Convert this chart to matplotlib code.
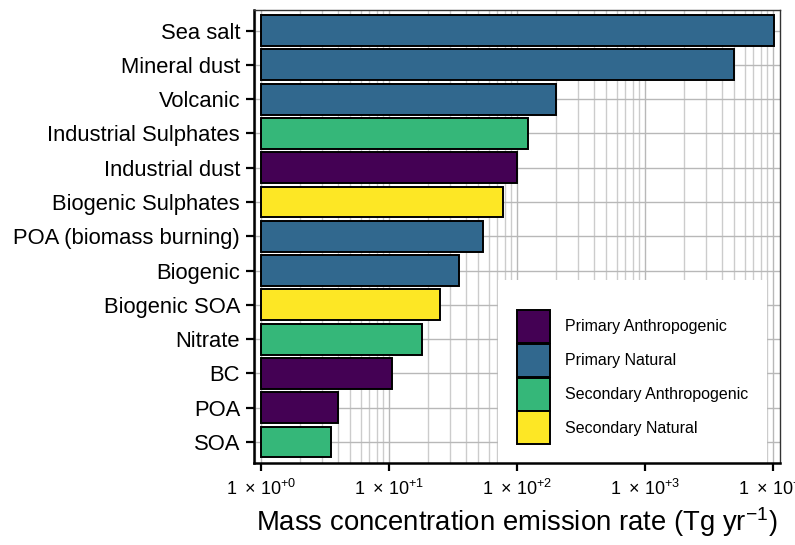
import matplotlib
matplotlib.use("Agg")
import matplotlib.pyplot as plt
from matplotlib.patches import Patch, Rectangle
from matplotlib.ticker import LogLocator, FixedLocator, NullFormatter

plt.rcParams["font.family"] = ["Liberation Sans", "DejaVu Sans"]
plt.rcParams["mathtext.fontset"] = "custom"
plt.rcParams["mathtext.rm"] = "Liberation Sans"
plt.rcParams["mathtext.it"] = "Liberation Sans:italic"
plt.rcParams["mathtext.bf"] = "Liberation Sans:bold"

# Aerosol sources, listed from largest to smallest emission
sources = ["Sea salt", "Mineral dust", "Volcanic", "Industrial Sulphates",
           "Industrial dust", "Biogenic Sulphates", "POA (biomass burning)",
           "Biogenic", "Biogenic SOA", "Nitrate", "BC", "POA", "SOA"]
emission = [10100, 5000, 200, 122, 100, 78, 54, 35, 25, 18, 10.5, 4.0, 3.5]
source_type = ["Primary Natural", "Primary Natural", "Primary Natural",
               "Secondary Anthropogenic", "Primary Anthropogenic",
               "Secondary Natural", "Primary Natural", "Primary Natural",
               "Secondary Natural", "Secondary Anthropogenic",
               "Primary Anthropogenic", "Primary Anthropogenic",
               "Secondary Anthropogenic"]

type_names = ["Primary Anthropogenic", "Primary Natural",
              "Secondary Anthropogenic", "Secondary Natural"]
type_colors = ["#440154", "#31688E", "#35B779", "#FDE725"]
colour_of = dict(zip(type_names, type_colors))

x_ticks = [1e0, 1e1, 1e2, 1e3, 1e4]
x_tick_labels = [r"$\mathregular{1\ \times\,10^{+0}}$",
                 r"$\mathregular{1\ \times\,10^{+1}}$",
                 r"$\mathregular{1\ \times\,10^{+2}}$",
                 r"$\mathregular{1\ \times\,10^{+3}}$",
                 r"$\mathregular{1\ \times\,10^{+4}}$"]

fig = plt.figure(figsize=(7.95, 5.45), dpi=100)
ax = fig.add_axes([254 / 795, 1 - 462.5 / 545, 526 / 795, 452.5 / 545])

n = len(sources)
ypos = [n - 1 - i for i in range(n)]
ax.barh(ypos, [v - 1 for v in emission], left=1, height=0.9,
        color=[colour_of[t] for t in source_type],
        edgecolor="black", linewidth=1.4, zorder=3)

ax.set_xscale("log")
ax.set_xlim(10 ** -0.055, 10 ** 4.055)
ax.set_ylim(-0.6, n - 1 + 0.6)

ax.xaxis.set_major_locator(FixedLocator(x_ticks))
ax.set_xticklabels(x_tick_labels)
ax.xaxis.set_minor_locator(LogLocator(base=10, subs=range(2, 10), numticks=20))
ax.xaxis.set_minor_formatter(NullFormatter())
ax.set_yticks(ypos)
ax.set_yticklabels(sources)

ax.set_axisbelow(True)
ax.grid(which="major", axis="both", color="#b8b8b8", linewidth=1.0, zorder=0)
ax.grid(which="minor", axis="x", color="#cccccc", linewidth=1.0, zorder=0)

ax.tick_params(axis="both", which="major", direction="out", length=6,
               width=1.6, color="black", labelcolor="black")
ax.tick_params(axis="x", which="major", labelsize=13, pad=6)
ax.tick_params(axis="y", which="major", labelsize=15.8, pad=4)
ax.tick_params(axis="x", which="minor", length=0)

for side in ("top", "right"):
    ax.spines[side].set_color("#333333")
    ax.spines[side].set_linewidth(1.0)
for side in ("left", "bottom"):
    ax.spines[side].set_color("black")
    ax.spines[side].set_linewidth(1.8)

ax.set_xlabel(r"Mass concentration emission rate (Tg yr$^{\mathregular{-1}}$)",
              fontsize=19.8, labelpad=4)

# White panel behind the legend
ax.add_patch(Rectangle((0.464, 0.0), 0.511, 0.403, transform=ax.transAxes,
                       facecolor="white", edgecolor="none", zorder=2))

handles = [Patch(facecolor=c, edgecolor="black", linewidth=1.4) for c in type_colors]
leg = ax.legend(handles, type_names, loc="upper left",
                bbox_to_anchor=(0.5006, 0.337), frameon=False,
                fontsize=11.5, handlelength=2.06, handleheight=2.8,
                labelspacing=0.05, handletextpad=0.95, borderpad=0,
                borderaxespad=0)
leg.set_zorder(5)

fig.savefig("out.png", dpi=100)
